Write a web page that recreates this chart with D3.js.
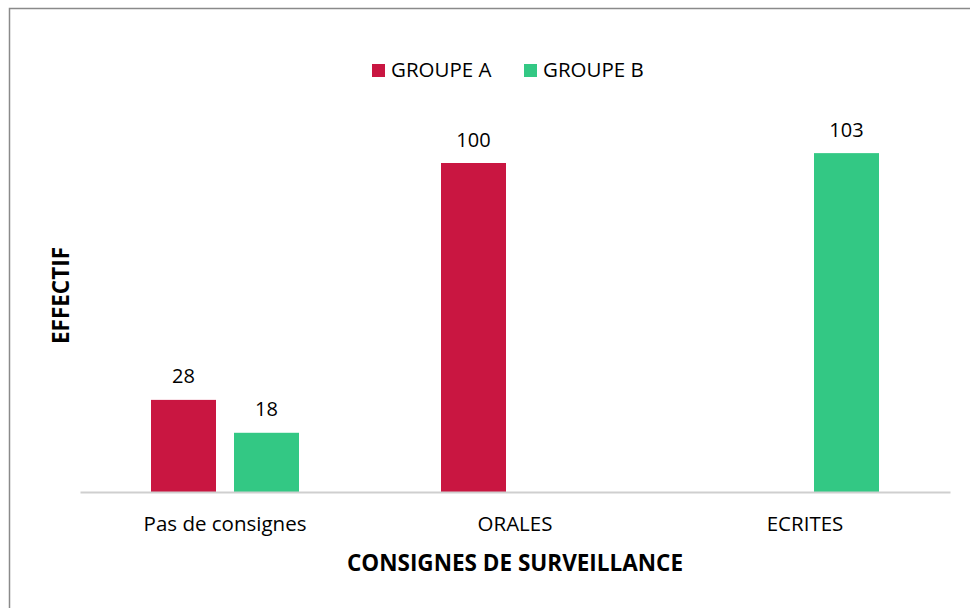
<!DOCTYPE html>
<html><head><meta charset="utf-8">
<script src="https://cdn.jsdelivr.net/npm/d3@7"></script>
<style>
html,body{margin:0;padding:0;background:#fff;}
text{font-family:"Open Sans",sans-serif;fill:#000;}
</style></head>
<body><svg id="c" width="970" height="608"></svg>
<script>
const categories = ["Pas de consignes", "ORALES", "ECRITES"];
const seriesNames = ["GROUPE A", "GROUPE B"];
const groupA = [28, 100, null];
const groupB = [18, null, 103];
const colors = ["#C91641", "#33C884"];
const xTitle = "CONSIGNES DE SURVEILLANCE";
const yTitle = "EFFECTIF";

const svg = d3.select("#c");
svg.append("rect").attr("x",9.5).attr("y",8.5).attr("width",990).attr("height",630)
  .attr("fill","#fff").attr("stroke","#8a8a8a").attr("stroke-width",1.5);

const x0 = d3.scaleBand().domain(categories).range([80, 950]).padding(0);
const groupW = 148;
const x1 = d3.scaleBand().domain(seriesNames).range([0, groupW]).paddingInner(18/83).paddingOuter(0);
const y = d3.scaleLinear().domain([0, 120]).range([492, 97.2]);

const series = [groupA, groupB];
const data = [];
categories.forEach((c,i)=>{
  seriesNames.forEach((s,j)=>{
    const v = series[j][i];
    if (v !== null && v !== undefined) data.push({c, s, v, j});
  });
});

const gx = (d)=> x0(d.c) + x0.bandwidth()/2 - groupW/2 + x1(d.s);

svg.selectAll("rect.bar").data(data).enter().append("rect").attr("class","bar")
  .attr("x", gx).attr("width", x1.bandwidth())
  .attr("y", d=>y(d.v)).attr("height", d=>y(0)-y(d.v))
  .attr("fill", d=>colors[d.j]);

svg.selectAll("text.lbl").data(data).enter().append("text").attr("class","lbl")
  .attr("x", d=>gx(d)+x1.bandwidth()/2).attr("y", d=>y(d.v)-16.5)
  .attr("text-anchor","middle").style("font-size","20px").text(d=>d.v);

// x axis
const xAxis = d3.axisBottom(x0).tickSize(0).tickPadding(0);
const ga = svg.append("g").attr("transform","translate(0,492)").call(xAxis);
ga.select(".domain").attr("stroke","#cfcfcf").attr("stroke-width",1.8);
ga.selectAll(".tick text").attr("y",39).attr("dy",0)
  .style("font-family","'Open Sans',sans-serif").style("font-size","20.5px").attr("fill","#000");

svg.append("text").attr("x",515).attr("y",571).attr("text-anchor","middle")
  .style("font-size","22.5px").style("font-weight","bold").text(xTitle);
svg.append("text").attr("transform","translate(69,295.5) rotate(-90)").attr("text-anchor","middle")
  .style("font-size","22.5px").style("font-weight","bold").text(yTitle);

// legend
const lg = svg.append("g");
const legX = [372, 524];
seriesNames.forEach((s,j)=>{
  lg.append("rect").attr("x",legX[j]).attr("y",64).attr("width",13).attr("height",13).attr("fill",colors[j]);
  lg.append("text").attr("x",legX[j]+19).attr("y",77).style("font-size","20.5px").text(s);
});
</script></body></html>
